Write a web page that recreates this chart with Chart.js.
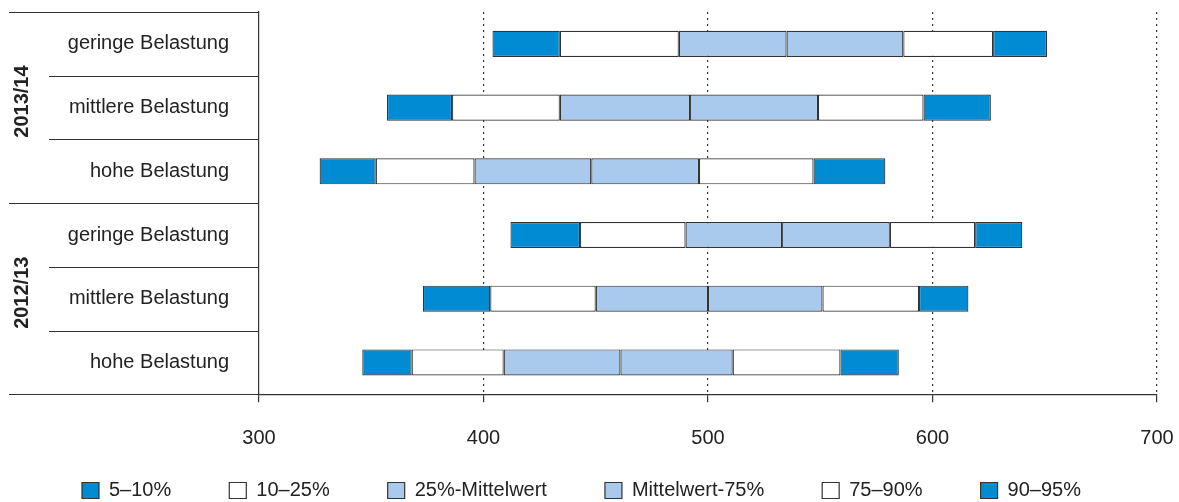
<!DOCTYPE html>
<html>
<head>
<meta charset="utf-8">
<script src="https://cdn.jsdelivr.net/npm/chart.js@4/dist/chart.umd.min.js"></script>
<style>
  html, body { margin: 0; padding: 0; background: #fff; }
  #wrap { width: 1179px; height: 502px; position: relative; }
</style>
</head>
<body>
<div id="wrap"><canvas id="c"></canvas></div>
<script>
// Categories (top to bottom)
const rowLabels = ['geringe Belastung', 'mittlere Belastung', 'hohe Belastung',
                   'geringe Belastung', 'mittlere Belastung', 'hohe Belastung'];
const groupLabels = ['2013/14', '2012/13'];
const groupSizes = [3, 3];

// Percentile values per row
const p5   = [404, 357, 327, 412, 373, 346];
const p10  = [434, 386, 352, 443, 403, 368];
const p25  = [487, 434, 396, 490, 450, 409];
const mean = [535, 492, 448, 533, 500, 461];
const p75  = [587, 549, 496, 581, 551, 511];
const p90  = [627, 596, 547, 619, 594, 559];
const p95  = [651, 626, 579, 640, 616, 585];

const seriesLabels = ['5–10%', '10–25%', '25%-Mittelwert', 'Mittelwert-75%', '75–90%', '90–95%'];
const xMin = 300, xMax = 700, xStep = 100;

const DARK = '#008bd2', LIGHT = '#a9caec', WHITE = '#ffffff';
const seriesColors = [DARK, WHITE, LIGHT, LIGHT, WHITE, DARK];
const bounds = [p5, p10, p25, mean, p75, p90, p95];

const datasets = seriesLabels.map((lab, k) => ({
  label: lab,
  data: bounds[k].map((v, i) => [v, bounds[k + 1][i]]),
  backgroundColor: seriesColors[k],
  borderColor: '#333333',
  borderWidth: 1.2,
  borderSkipped: false,
  barPercentage: 0.41,
  categoryPercentage: 1.0
}));

const FONT = "'Liberation Sans', Arial, Helvetica, sans-serif";
Chart.defaults.font.family = FONT;
Chart.defaults.font.size = 20;
Chart.defaults.color = '#222222';

const groupPlugin = {
  id: 'groupPlugin',
  afterDraw(chart) {
    const ctx = chart.ctx;
    const y = chart.scales.y;
    const ca = chart.chartArea;
    const step = y.getPixelForValue(1) - y.getPixelForValue(0);
    const first = y.getPixelForValue(0) - step / 2;
    const n = rowLabels.length;
    const groupStarts = [0];
    let acc = 0;
    groupSizes.forEach(s => { acc += s; groupStarts.push(acc); });
    ctx.save();
    ctx.strokeStyle = '#333333';
    ctx.lineWidth = 1;
    for (let k = 0; k <= n; k++) {
      const yy = Math.round(first + k * step) + 0.5;
      const isGroup = groupStarts.includes(k);
      ctx.beginPath();
      ctx.moveTo(isGroup ? 9 : 49, yy);
      ctx.lineTo(ca.left, yy);
      ctx.stroke();
    }
    ctx.fillStyle = '#222222';
    ctx.font = 'bold 20px ' + FONT;
    ctx.textAlign = 'center';
    ctx.textBaseline = 'middle';
    for (let g = 0; g < groupLabels.length; g++) {
      const top = first + groupStarts[g] * step;
      const bot = first + groupStarts[g + 1] * step;
      ctx.save();
      ctx.translate(22, (top + bot) / 2 - 6);
      ctx.rotate(-Math.PI / 2);
      ctx.fillText(groupLabels[g], 0, 0);
      ctx.restore();
    }
    ctx.restore();
  }
};

new Chart(document.getElementById('c'), {
  type: 'bar',
  data: { labels: rowLabels, datasets },
  plugins: [groupPlugin],
  options: {
    indexAxis: 'y',
    responsive: true,
    maintainAspectRatio: false,
    animation: false,
    layout: { padding: { left: 24, right: 22, top: 12, bottom: -8.5 } },
    plugins: {
      legend: {
        position: 'bottom',
        align: 'start',
        title: { display: true, text: '', font: { size: 1 }, padding: { top: -33, bottom: 0 } },
        labels: {
          boxWidth: 17,
          boxHeight: 16,
          padding: 58,
          color: '#222222',
          font: { size: 20, family: FONT }
        }
      },
      tooltip: { enabled: false }
    },
    scales: {
      x: {
        type: 'linear',
        min: xMin,
        max: xMax,
        afterFit(scale) {
          scale.height = 60;
          scale.paddingLeft = 0; scale.paddingRight = 0;
          scale.paddingTop = 0; scale.paddingBottom = 0;
        },
        ticks: { stepSize: xStep, padding: 24, color: '#222222', font: { size: 20 }, maxRotation: 0, autoSkip: false },
        grid: {
          color: c => (c.tick && c.tick.value === xMin) ? 'rgba(0,0,0,0)' : '#333333',
          tickColor: '#333333',
          tickLength: 8,
          lineWidth: 1.2,
          tickBorderDash: []
        },
        border: { display: true, color: '#333333', width: 1.2, dash: [2, 4] }
      },
      y: {
        type: 'category',
        stacked: true,
        afterFit(scale) {
          scale.width = 235;
          scale.paddingLeft = 0; scale.paddingRight = 0;
          scale.paddingTop = 0; scale.paddingBottom = 0;
        },
        ticks: { padding: 30, color: '#222222', font: { size: 20 } },
        grid: { display: false, drawTicks: false },
        border: { display: true, color: '#333333', width: 1.2 }
      }
    }
  }
});
</script>
</body>
</html>
